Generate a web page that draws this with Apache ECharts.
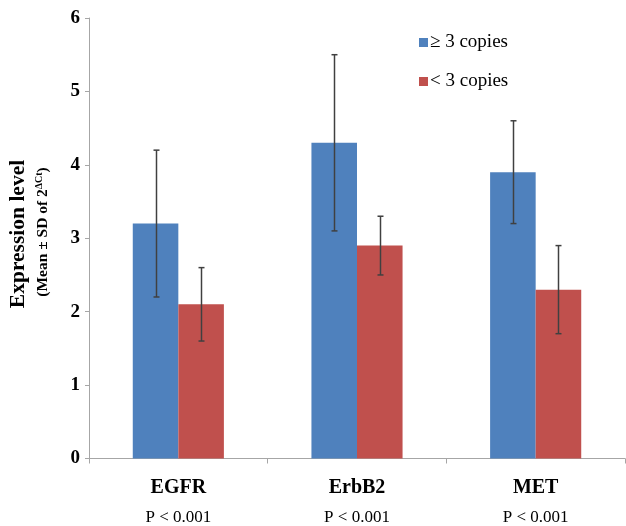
<!DOCTYPE html>
<html><head><meta charset="utf-8">
<script src="https://cdn.jsdelivr.net/npm/echarts@6/dist/echarts.min.js"></script>
<style>html,body{margin:0;padding:0;background:#fff}#c{width:626px;height:526px}</style>
</head><body><div id="c"></div>
<script>
var categories = ['EGFR', 'ErbB2', 'MET'];
var pLabels = ['P < 0.001', 'P < 0.001', 'P < 0.001'];
var highMean = [3.2, 4.3, 3.9];
var highSD = [1.0, 1.2, 0.7];
var lowMean = [2.1, 2.9, 2.3];
var lowSD = [0.5, 0.4, 0.6];
var yTicks = [0, 1, 2, 3, 4, 5, 6];

var BW = 0.255;
function errData(mean, sd) {
  return mean.map(function (m, i) { return [i, m - sd[i], m + sd[i]]; });
}
function errSeries(name, mean, sd, sign) {
  return {
    type: 'custom', name: name + ' err', z: 10, silent: true,
    data: errData(mean, sd),
    renderItem: function (params, api) {
      var band = api.size([1, 0])[0];
      var off = sign * band * BW / 2;
      var lo = api.coord([api.value(0), api.value(1)]);
      var hi = api.coord([api.value(0), api.value(2)]);
      var x = Math.round(lo[0] + off) + 0.5;
      var cap = 3;
      var st = { stroke: '#404040', lineWidth: 1.5 };
      return { type: 'group', children: [
        { type: 'line', shape: { x1: x, y1: lo[1], x2: x, y2: hi[1] }, style: st },
        { type: 'line', shape: { x1: x - cap, y1: lo[1], x2: x + cap, y2: lo[1] }, style: st },
        { type: 'line', shape: { x1: x - cap, y1: hi[1], x2: x + cap, y2: hi[1] }, style: st }
      ]};
    }
  };
}

var chart = echarts.init(document.getElementById('c'));
chart.setOption({
  animation: false,
  grid: { left: 89, top: 18, bottom: 64, width: 536 },
  legend: {
    orient: 'vertical', left: 414, top: 28, itemWidth: 9, itemHeight: 9, itemGap: 20,
    icon: 'rect',
    data: ['\u2265 3 copies', '< 3 copies'],
    textStyle: { fontFamily: 'Liberation Serif', fontSize: 19, color: '#000', padding: [0, 0, 0, -3] }
  },
  xAxis: {
    type: 'category', data: categories,
    axisLine: { lineStyle: { color: '#a6a6a6', width: 1 } },
    axisTick: { show: true, length: 5, lineStyle: { color: '#a6a6a6' } },
    axisLabel: {
      margin: 14,
      formatter: function (v, i) { return '{a|' + v + '}\n{b|' + pLabels[i] + '}'; },
      rich: {
        a: { fontFamily: 'Liberation Serif', fontWeight: 'bold', fontSize: 20, color: '#000', lineHeight: 30 },
        b: { fontFamily: 'Liberation Serif', fontSize: 17, color: '#000', lineHeight: 30 }
      }
    }
  },
  yAxis: {
    type: 'value', min: 0, max: 6, interval: 1,
    splitLine: { show: false },
    axisLine: { show: true, lineStyle: { color: '#a6a6a6', width: 1 } },
    axisTick: { show: true, length: 4, lineStyle: { color: '#a6a6a6' } },
    axisLabel: {
      margin: 9,
      formatter: function (v) { return yTicks.indexOf(v) >= 0 ? String(v) : ''; },
      fontFamily: 'Liberation Serif', fontWeight: 'bold', fontSize: 19, color: '#000'
    }
  },
  graphic: [
    {
      type: 'text', x: 18, y: 234, rotation: Math.PI / 2, z: 10,
      style: {
        text: 'Expression level', fontFamily: 'Liberation Serif', fontWeight: 'bold',
        fontSize: 21.5, fill: '#000', align: 'center', verticalAlign: 'middle'
      }
    },
    {
      type: 'text', x: 43, y: 232, rotation: Math.PI / 2, z: 10,
      style: {
        text: '{m|(Mean \u00b1 SD of 2}{s|\u0394Ct}{m|)}',
        align: 'center', verticalAlign: 'middle',
        rich: {
          m: { fontFamily: 'Liberation Serif', fontWeight: 'bold', fontSize: 15.5, fill: '#000' },
          s: { fontFamily: 'Liberation Serif', fontWeight: 'bold', fontSize: 10, fill: '#000', verticalAlign: 'top', padding: [0, 0, 7, 0] }
        }
      }
    }
  ],
  series: [
    { type: 'bar', name: '\u2265 3 copies', data: highMean, barWidth: (BW * 100) + '%', barGap: '0%',
      itemStyle: { color: '#4F81BD' } },
    { type: 'bar', name: '< 3 copies', data: lowMean, barWidth: (BW * 100) + '%', barGap: '0%',
      itemStyle: { color: '#C0504D' } },
    errSeries('high', highMean, highSD, -1),
    errSeries('low', lowMean, lowSD, 1)
  ]
});
</script></body></html>
